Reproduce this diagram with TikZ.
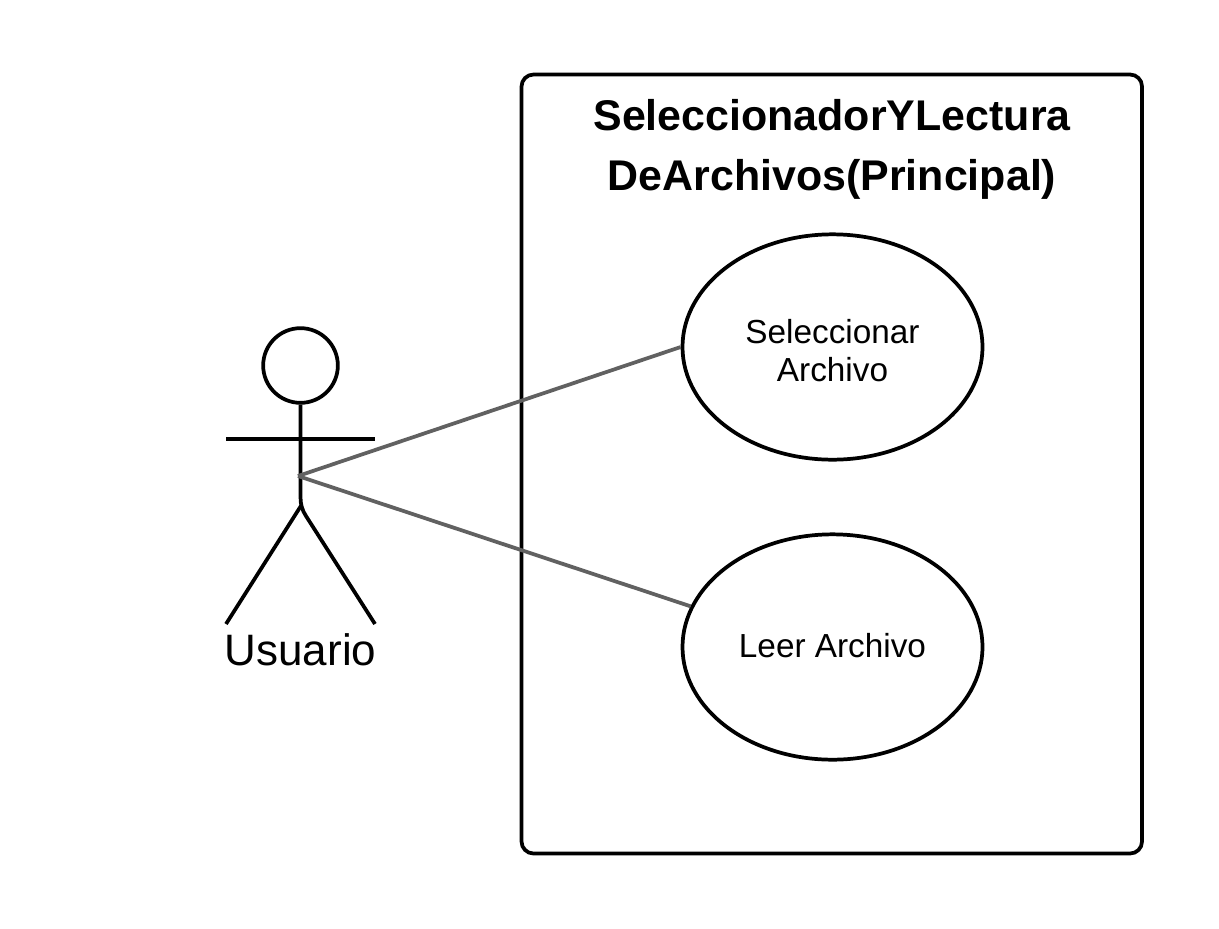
\documentclass[tikz,border=0pt]{standalone}
\usepackage{fontspec}
\setmainfont{Liberation Sans}
\usetikzlibrary{shapes.geometric}
\tikzset{
 px/.style={x=0.75pt,y=-0.75pt},
 ink/.style={draw=black,line width=2.8pt},
 usecase/.style={ellipse,draw=black,line width=2.8pt,fill=white,minimum width=225pt,minimum height=169pt,inner sep=0pt},
 casetext/.style={align=center,font=\fontsize{25}{28.5}\selectfont},
 link/.style={draw=black!62,line width=2.8pt},
}
\begin{document}
\begin{tikzpicture}[px]
\useasboundingbox (0,0) rectangle (1219,928);
\fill[white] (0,0) rectangle (1219,928);
\draw[ink,rounded corners=9pt] (521.5,74.5) rectangle (1142,853.5);
\node[align=center,font=\bfseries\fontsize{32.2}{45.5}\selectfont] (title) at (832,149.5) {SeleccionadorYLectura\\DeArchivos(Principal)};
\node[usecase] (sel) at (832.5,347) {};
\node[usecase] (leer) at (832.5,647) {};
\node[casetext] (seltext) at (832.5,351) {Seleccionar\\Archivo};
\node[casetext] (leertext) at (832.5,646) {Leer Archivo};
% actor
\node[circle,draw=black,line width=2.8pt,minimum size=56pt,inner sep=0pt] (head) at (300.5,365.5) {};
\coordinate (neck) at (300.5,497);
\coordinate (hip) at (301.5,505);
\coordinate (armL) at (226,439);
\coordinate (armR) at (375,439);
\coordinate (footL) at (226,624);
\coordinate (footR) at (375,624);
\coordinate (hub) at (298,476);
\coordinate (kneeR) at (306,516);
\draw[ink] (head.south) -- (neck) .. controls (300.5,504) and (302,510) .. (kneeR) -- (footR);
\draw[ink] (armL) -- (armR);
\draw[ink] (footL) -- (hip);
\node[font=\fontsize{33}{36}\selectfont,anchor=base] (user) at (300.5,665) {Usuario};
\draw[link] (hub) -- (sel.west);
\draw[link] (hub) -- (leer.164);
\end{tikzpicture}
\end{document}
